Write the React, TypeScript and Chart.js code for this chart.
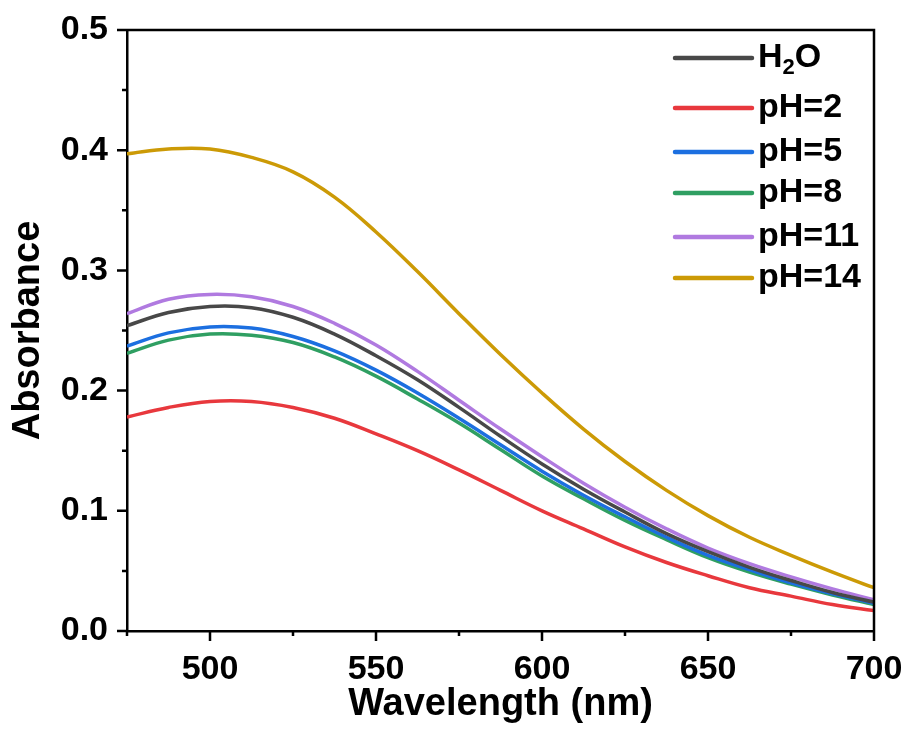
import React, { useEffect, useRef } from "react";
import { Chart, registerables } from "chart.js";

Chart.register(...registerables);

const wavelengths = [475, 487.5, 500, 512.5, 525, 537.5, 550, 562.5, 575, 587.5, 600, 612.5, 625, 637.5, 650, 662.5, 675, 687.5, 700];

const h2o = [0.254, 0.265, 0.270, 0.269, 0.261, 0.247, 0.229, 0.209, 0.186, 0.162, 0.139, 0.118, 0.099, 0.081, 0.066, 0.053, 0.042, 0.032, 0.024];
const ph2 = [0.178, 0.186, 0.191, 0.191, 0.186, 0.177, 0.164, 0.150, 0.134, 0.117, 0.100, 0.085, 0.070, 0.057, 0.046, 0.036, 0.029, 0.022, 0.017];
const ph5 = [0.237, 0.248, 0.253, 0.252, 0.245, 0.233, 0.217, 0.198, 0.177, 0.155, 0.133, 0.113, 0.095, 0.078, 0.063, 0.051, 0.040, 0.031, 0.023];
const ph8 = [0.231, 0.242, 0.247, 0.246, 0.240, 0.228, 0.212, 0.193, 0.173, 0.151, 0.129, 0.110, 0.092, 0.076, 0.061, 0.049, 0.039, 0.030, 0.022];
const ph11 = [0.264, 0.276, 0.280, 0.278, 0.270, 0.256, 0.238, 0.216, 0.192, 0.168, 0.145, 0.123, 0.103, 0.085, 0.069, 0.056, 0.045, 0.035, 0.026];
const ph14 = [0.397, 0.401, 0.401, 0.394, 0.382, 0.361, 0.332, 0.299, 0.264, 0.230, 0.198, 0.168, 0.141, 0.117, 0.096, 0.078, 0.063, 0.049, 0.036];

const seriesLabels = ["H2O", "pH=2", "pH=5", "pH=8", "pH=11", "pH=14"];
const seriesValues = [h2o, ph2, ph5, ph8, ph11, ph14];
const seriesColors = ["#484848", "#e8383d", "#1c6fe0", "#2f9f62", "#b07ae0", "#cc9a06"];

const xMajorTicks = [500, 550, 600, 650, 700];
const xMinorTicks = [475, 525, 575, 625, 675];
const yMajorTicks = [0, 0.1, 0.2, 0.3, 0.4, 0.5];
const yMinorTicks = [0.05, 0.15, 0.25, 0.35, 0.45];

const FONT = "'Liberation Sans', Arial, sans-serif";

const framePlugin = {
  id: "frameTicks",
  afterDraw(chart: any) {
    const { ctx, chartArea } = chart;
    const xs = chart.scales.x;
    const ys = chart.scales.y;
    ctx.save();
    ctx.strokeStyle = "#000";
    ctx.lineWidth = 2.5;
    ctx.beginPath();
    ctx.moveTo(chartArea.left, chartArea.top);
    ctx.lineTo(chartArea.right, chartArea.top);
    ctx.lineTo(chartArea.right, chartArea.bottom);
    ctx.stroke();
    ctx.beginPath();
    xMajorTicks.forEach((v) => {
      const px = xs.getPixelForValue(v);
      ctx.moveTo(px, chartArea.bottom);
      ctx.lineTo(px, chartArea.bottom + 10);
    });
    xMinorTicks.forEach((v) => {
      const px = xs.getPixelForValue(v);
      ctx.moveTo(px, chartArea.bottom);
      ctx.lineTo(px, chartArea.bottom + 5);
    });
    yMajorTicks.forEach((v) => {
      const py = ys.getPixelForValue(v);
      ctx.moveTo(chartArea.left, py);
      ctx.lineTo(chartArea.left - 10, py);
    });
    yMinorTicks.forEach((v) => {
      const py = ys.getPixelForValue(v);
      ctx.moveTo(chartArea.left, py);
      ctx.lineTo(chartArea.left - 5, py);
    });
    ctx.stroke();

    // legend
    const rowOffsets = [28, 78, 122, 163, 207, 248];
    const lineX0 = chartArea.right - 199;
    const lineX1 = chartArea.right - 122;
    const textX = chartArea.right - 116;
    ctx.textBaseline = "middle";
    ctx.textAlign = "left";
    chart.data.datasets.forEach((ds: any, i: number) => {
      const y = chartArea.top + rowOffsets[i];
      ctx.strokeStyle = ds.borderColor;
      ctx.lineWidth = 4.5;
      ctx.lineCap = "round";
      ctx.beginPath();
      ctx.moveTo(lineX0, y);
      ctx.lineTo(lineX1, y);
      ctx.stroke();
      ctx.fillStyle = "#000";
      ctx.font = `bold 34px ${FONT}`;
      if (ds.label === "H2O") {
        ctx.fillText("H", textX, y);
        let x = textX + ctx.measureText("H").width;
        ctx.font = `bold 22px ${FONT}`;
        ctx.fillText("2", x, y + 10);
        x += ctx.measureText("2").width;
        ctx.font = `bold 34px ${FONT}`;
        ctx.fillText("O", x, y);
      } else {
        ctx.fillText(ds.label, textX, y);
      }
    });
    ctx.restore();
  },
};

export default function App() {
  const ref = useRef<HTMLCanvasElement>(null);
  useEffect(() => {
    if (!ref.current) return;
    const chart = new Chart(ref.current, {
      type: "line",
      data: {
        datasets: seriesLabels.map((label, i) => ({
          label,
          data: wavelengths.map((w, j) => ({ x: w, y: seriesValues[i][j] })),
          borderColor: seriesColors[i],
          backgroundColor: seriesColors[i],
          borderWidth: 3.5,
          pointRadius: 0,
          tension: 0.4,
          fill: false,
        })),
      },
      options: {
        animation: false,
        responsive: false,
        maintainAspectRatio: false,
        layout: { padding: { top: 30, right: 37, left: 0, bottom: 0 } },
        plugins: {
          legend: { display: false },
          tooltip: { enabled: false },
        },
        scales: {
          x: {
            type: "linear",
            min: 475,
            max: 700,
            afterBuildTicks: (s: any) => {
              s.ticks = xMajorTicks.map((v) => ({ value: v }));
            },
            afterFit: (s: any) => {
              s.height = 100;
              s.paddingLeft = 0;
              s.paddingRight = 0;
            },
            grid: { display: true, drawOnChartArea: false, drawTicks: false },
            border: { display: true, color: "#000", width: 2.5 },
            ticks: {
              color: "#000",
              font: { family: FONT, size: 34, weight: "bold" },
              padding: 18,
              maxRotation: 0,
              autoSkip: false,
            },
            title: {
              display: true,
              text: "Wavelength (nm)",
              color: "#000",
              font: { family: FONT, size: 38, weight: "bold" },
              padding: { top: 0, bottom: 4 },
            },
          },
          y: {
            type: "linear",
            min: 0,
            max: 0.5,
            afterBuildTicks: (s: any) => {
              s.ticks = yMajorTicks.map((v) => ({ value: v }));
            },
            afterFit: (s: any) => {
              s.width = 127;
              s.paddingTop = 0;
              s.paddingBottom = 0;
            },
            grid: { display: true, drawOnChartArea: false, drawTicks: false },
            border: { display: true, color: "#000", width: 2.5 },
            ticks: {
              color: "#000",
              font: { family: FONT, size: 34, weight: "bold" },
              padding: 19,
              callback: (v: any) => Number(v).toFixed(1),
            },
            title: {
              display: true,
              text: "Absorbance",
              color: "#000",
              font: { family: FONT, size: 38, weight: "bold" },
              padding: { top: 6, bottom: 0 },
            },
          },
        },
      },
      plugins: [framePlugin],
    });
    return () => chart.destroy();
  }, []);
  return (
    <div style={{ position: "absolute", left: 0, top: 0, width: 911, height: 731, background: "#fff" }}>
      <canvas ref={ref} width={911} height={731} style={{ width: 911, height: 731 }} />
    </div>
  );
}
